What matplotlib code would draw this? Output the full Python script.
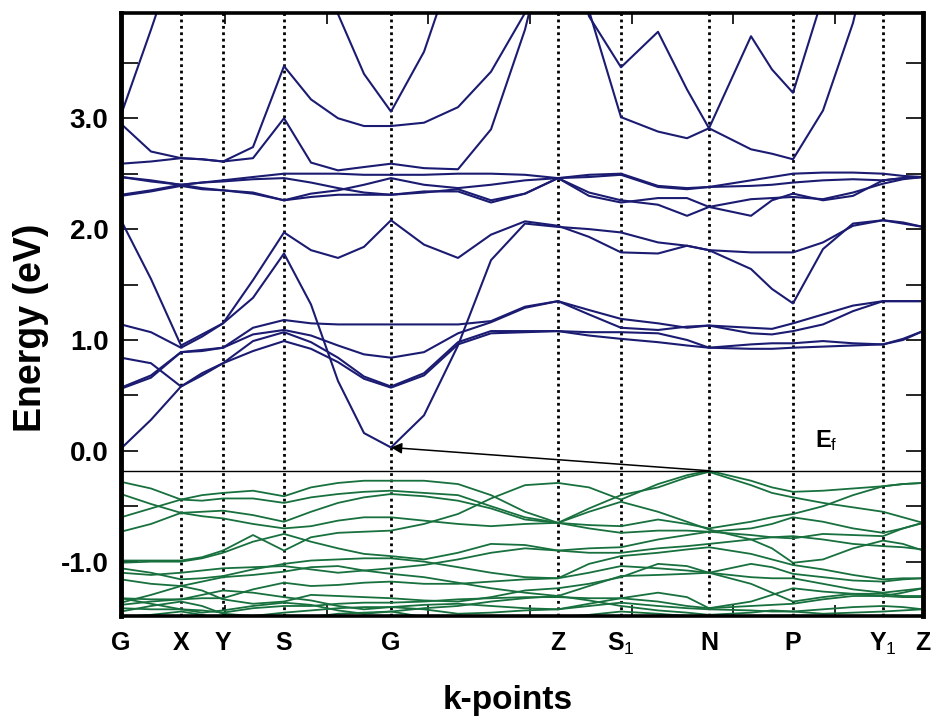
import matplotlib
matplotlib.use("Agg")
import matplotlib.pyplot as plt

plt.rcParams["font.family"] = ["Liberation Sans", "DejaVu Sans"]
plt.rcParams["mathtext.fontset"] = "custom"
plt.rcParams["mathtext.rm"] = "Liberation Sans"
plt.rcParams["mathtext.it"] = "Liberation Sans:italic"
plt.rcParams["mathtext.bf"] = "Liberation Sans:bold"

# k-path (arbitrary distance units along the path)
k_grid = [0, 30, 60, 81, 102, 132, 163, 190, 217, 243, 270, 303, 337, 370, 404,
          437, 468, 500, 537, 566, 588, 630, 651, 672, 702, 732, 762, 782, 802]
hs_k = [0, 60, 102, 163, 270, 437, 500, 588, 672, 762, 802]
hs_labels = ["G", "X", "Y", "S", "G", "Z", "S$_1$", "N", "P", "Y$_1$", "Z"]
path_ticks = [104, 206, 307, 409, 511, 612, 714]

fermi_level = -0.18
gap_from = (588, -0.18)   # VBM at N
gap_to = (270, 0.03)      # CBM at G

y_major = [-1.0, 0.0, 1.0, 2.0, 3.0]
y_labels = ["-1.0", "0.0", "1.0", "2.0", "3.0"]
y_minor = [-0.5, 0.5, 1.5, 2.5, 3.5]

# conduction bands (eV)
cb_1 = [0.02, 0.28, 0.58, 0.68, 0.79, 0.90, 0.99, 0.92, 0.80, 0.65, 0.57, 0.68, 0.96, 1.06, 1.07,
        1.08, 1.04, 1.01, 0.98, 0.95, 0.93, 0.92, 0.92, 0.93, 0.94, 0.95, 0.96, 1.01, 1.08]
cb_2 = [0.84, 0.79, 0.58, 0.70, 0.79, 0.99, 1.07, 0.98, 0.84, 0.67, 0.58, 0.70, 0.98, 1.08, 1.08,
        1.08, 1.07, 1.07, 1.06, 1.00, 0.93, 0.96, 0.97, 0.97, 0.99, 0.97, 0.96, 1.00, 1.08]
cb_3 = [0.57, 0.68, 0.89, 0.90, 0.93, 1.05, 1.09, 1.04, 0.95, 0.87, 0.84, 0.89, 1.06, 1.16, 1.29,
        1.35, 1.23, 1.11, 1.09, 1.12, 1.13, 1.06, 1.05, 1.08, 1.14, 1.26, 1.35, 1.35, 1.35]
cb_4 = [0.56, 0.66, 0.89, 0.91, 0.93, 1.11, 1.18, 1.15, 1.14, 1.14, 1.14, 1.14, 1.14, 1.17, 1.30,
        1.35, 1.27, 1.19, 1.15, 1.11, 1.13, 1.11, 1.10, 1.15, 1.23, 1.31, 1.35, 1.35, 1.35]
cb_5 = [1.14, 1.07, 0.93, 1.03, 1.15, 1.38, 1.78, 1.32, 0.63, 0.16, 0.03, 0.32, 0.95, 1.72, 2.05,
        2.02, 2.00, 1.97, 1.88, 1.85, 1.81, 1.79, 1.79, 1.79, 1.88, 2.03, 2.08, 2.06, 2.02]
cb_6 = [2.08, 1.55, 0.95, 1.05, 1.15, 1.54, 1.97, 1.81, 1.74, 1.84, 2.08, 1.86, 1.74, 1.95, 2.07,
        2.03, 1.93, 1.79, 1.78, 1.85, 1.81, 1.64, 1.46, 1.33, 1.82, 2.05, 2.08, 2.05, 2.02]
cb_7 = [2.47, 2.44, 2.40, 2.42, 2.44, 2.47, 2.50, 2.50, 2.50, 2.49, 2.49, 2.49, 2.50, 2.50, 2.49,
        2.46, 2.49, 2.50, 2.39, 2.37, 2.38, 2.44, 2.47, 2.50, 2.51, 2.51, 2.50, 2.48, 2.47]
cb_8 = [2.47, 2.43, 2.40, 2.42, 2.43, 2.45, 2.46, 2.42, 2.37, 2.33, 2.31, 2.33, 2.36, 2.26, 2.32,
        2.46, 2.47, 2.49, 2.38, 2.36, 2.38, 2.39, 2.40, 2.42, 2.44, 2.45, 2.44, 2.46, 2.47]
cb_9 = [2.31, 2.35, 2.40, 2.37, 2.35, 2.33, 2.26, 2.32, 2.35, 2.40, 2.46, 2.40, 2.37, 2.40, 2.44,
        2.46, 2.33, 2.26, 2.22, 2.12, 2.20, 2.27, 2.28, 2.29, 2.27, 2.33, 2.41, 2.45, 2.47]
cb_10 = [2.30, 2.34, 2.39, 2.36, 2.35, 2.32, 2.26, 2.29, 2.31, 2.31, 2.31, 2.34, 2.34, 2.24, 2.32,
         2.46, 2.30, 2.24, 2.28, 2.28, 2.20, 2.12, 2.26, 2.32, 2.26, 2.30, 2.44, 2.46, 2.47]
cb_11 = [2.59, 2.61, 2.64, 2.63, 2.61, 2.64, 3.00, 2.60, 2.53, 2.56, 2.59, 2.55, 2.54, 2.90, 3.80,
         5.00, 3.92, 3.46, 3.78, 3.26, 2.91, 2.72, 2.68, 2.63, 3.07, 3.86, 5.00, 5.00, 5.00]
cb_12 = [2.95, 2.70, 2.64, 2.63, 2.61, 2.74, 3.47, 3.17, 3.00, 2.93, 2.93, 2.96, 3.10, 3.42, 3.95,
         5.00, 3.97, 3.01, 2.88, 2.82, 2.91, 3.74, 3.44, 3.23, 4.10, 5.00, 5.00, 5.00, 5.00]
cb_13 = [3.03, 3.80, 4.60, 5.00, 5.00, 5.00, 5.00, 4.60, 3.94, 3.40, 3.06, 3.60, 4.50, 5.00, 5.00,
         5.00, 5.00, 5.00, 5.00, 5.00, 5.00, 5.00, 5.00, 5.00, 5.00, 5.00, 5.00, 5.00, 5.00]

# valence bands (eV)
vb_1 = [-0.28, -0.34, -0.44, -0.40, -0.38, -0.36, -0.41, -0.33, -0.29, -0.27, -0.27, -0.27, -0.30, -0.40, -0.55,
        -0.65, -0.52, -0.40, -0.33, -0.24, -0.19, -0.31, -0.38, -0.42, -0.47, -0.51, -0.55, -0.60, -0.65]
vb_2 = [-0.60, -0.52, -0.44, -0.45, -0.43, -0.43, -0.47, -0.42, -0.39, -0.37, -0.36, -0.38, -0.40, -0.50, -0.60,
        -0.65, -0.55, -0.46, -0.55, -0.64, -0.71, -0.80, -0.88, -1.01, -0.98, -0.88, -0.81, -0.84, -0.90]
vb_3 = [-0.39, -0.48, -0.56, -0.55, -0.54, -0.58, -0.64, -0.55, -0.47, -0.42, -0.39, -0.41, -0.45, -0.52, -0.62,
        -0.65, -0.67, -0.68, -0.62, -0.66, -0.70, -0.64, -0.60, -0.57, -0.50, -0.40, -0.32, -0.30, -0.29]
vb_4 = [-0.73, -0.66, -0.56, -0.59, -0.61, -0.66, -0.70, -0.68, -0.63, -0.60, -0.60, -0.63, -0.66, -0.68, -0.66,
        -0.65, -0.70, -0.74, -0.72, -0.72, -0.73, -0.70, -0.66, -0.60, -0.64, -0.70, -0.74, -0.70, -0.65]
vb_5 = [-0.99, -0.99, -0.99, -0.96, -0.90, -0.76, -0.90, -0.78, -0.74, -0.73, -0.72, -0.66, -0.57, -0.43, -0.31,
        -0.29, -0.33, -0.44, -0.30, -0.22, -0.18, -0.27, -0.33, -0.37, -0.36, -0.34, -0.32, -0.30, -0.29]
vb_6 = [-1.01, -1.00, -1.00, -0.97, -0.92, -0.82, -0.75, -0.82, -0.88, -0.93, -0.95, -0.98, -0.92, -0.84, -0.85,
        -0.90, -0.88, -0.87, -0.80, -0.76, -0.73, -0.76, -0.78, -0.79, -0.75, -0.76, -0.77, -0.70, -0.65]
vb_7 = [-1.06, -1.10, -1.16, -1.15, -1.13, -1.07, -1.02, -0.99, -0.98, -0.97, -0.97, -1.00, -1.05, -1.10, -1.14,
        -1.15, -1.02, -0.95, -0.92, -0.89, -0.87, -0.93, -0.98, -1.03, -1.07, -1.12, -1.16, -1.15, -1.15]
vb_8 = [-1.10, -1.12, -1.10, -1.08, -1.06, -1.05, -1.04, -1.07, -1.10, -1.08, -1.06, -1.03, -0.98, -0.92, -0.88,
        -0.90, -0.92, -0.92, -0.88, -0.86, -0.84, -0.80, -0.78, -0.77, -0.80, -0.84, -0.86, -0.87, -0.89]
vb_9 = [-1.16, -1.20, -1.22, -1.18, -1.14, -1.12, -1.09, -1.05, -1.04, -1.08, -1.11, -1.14, -1.19, -1.24, -1.28,
        -1.31, -1.22, -1.13, -1.12, -1.11, -1.10, -1.14, -1.15, -1.15, -1.20, -1.25, -1.28, -1.26, -1.24]
vb_10 = [-1.33, -1.34, -1.34, -1.33, -1.33, -1.25, -1.19, -1.22, -1.21, -1.19, -1.18, -1.20, -1.20, -1.18, -1.16,
         -1.15, -1.10, -1.04, -1.06, -1.08, -1.10, -1.02, -1.05, -1.11, -1.14, -1.17, -1.18, -1.16, -1.15]
vb_11 = [-1.37, -1.30, -1.22, -1.26, -1.34, -1.38, -1.36, -1.30, -1.31, -1.32, -1.33, -1.35, -1.36, -1.32, -1.26,
         -1.24, -1.20, -1.14, -1.02, -1.04, -1.10, -1.20, -1.28, -1.36, -1.32, -1.29, -1.29, -1.31, -1.31]
vb_12 = [-1.42, -1.43, -1.43, -1.44, -1.46, -1.42, -1.40, -1.40, -1.38, -1.37, -1.37, -1.36, -1.34, -1.33, -1.32,
         -1.32, -1.33, -1.33, -1.36, -1.40, -1.42, -1.40, -1.39, -1.38, -1.34, -1.31, -1.31, -1.32, -1.32]
vb_13 = [-1.45, -1.40, -1.36, -1.40, -1.47, -1.49, -1.46, -1.44, -1.42, -1.41, -1.41, -1.43, -1.47, -1.46, -1.44,
         -1.43, -1.40, -1.37, -1.40, -1.42, -1.43, -1.44, -1.45, -1.45, -1.43, -1.41, -1.40, -1.41, -1.43]
vb_14 = [-1.50, -1.48, -1.45, -1.48, -1.52, -1.50, -1.53, -1.50, -1.47, -1.46, -1.45, -1.50, -1.55, -1.55, -1.52,
         -1.50, -1.48, -1.45, -1.47, -1.49, -1.50, -1.50, -1.50, -1.50, -1.50, -1.49, -1.50, -1.52, -1.55]
vb_15 = [-1.39, -1.36, -1.34, -1.30, -1.26, -1.28, -1.32, -1.35, -1.40, -1.43, -1.41, -1.39, -1.38, -1.40, -1.42,
         -1.43, -1.38, -1.33, -1.28, -1.32, -1.42, -1.36, -1.30, -1.24, -1.27, -1.29, -1.31, -1.28, -1.24]
vb_16 = [-1.33, -1.38, -1.43, -1.46, -1.44, -1.40, -1.37, -1.39, -1.44, -1.47, -1.45, -1.42, -1.40, -1.36, -1.33,
         -1.31, -1.35, -1.40, -1.44, -1.46, -1.48, -1.46, -1.44, -1.45, -1.47, -1.46, -1.45, -1.44, -1.43]

conduction = [cb_1, cb_2, cb_3, cb_4, cb_5, cb_6, cb_7, cb_8, cb_9, cb_10, cb_11, cb_12, cb_13]
valence = [vb_1, vb_2, vb_3, vb_4, vb_5, vb_6, vb_7, vb_8, vb_9, vb_10, vb_11, vb_12, vb_13, vb_14,
           vb_15, vb_16]

CB_COLOR = "#1b1b72"
VB_COLOR = "#17703d"

fig = plt.figure(figsize=(9.38, 7.2), dpi=100)
ax = fig.add_axes([0.129, 0.1445, 0.855, 0.8375])

for k in hs_k[1:-1]:
    ax.axvline(k, color="black", lw=2.0, ls=(0, (1, 1.3)), zorder=1)

for band in conduction:
    ax.plot(k_grid, band, color=CB_COLOR, lw=1.5, zorder=2)
for band in valence:
    ax.plot(k_grid, band, color=VB_COLOR, lw=1.3, zorder=2)

ax.axhline(fermi_level, color="black", lw=1.0, zorder=3)
ax.annotate("", xy=gap_to, xytext=gap_from,
            arrowprops=dict(arrowstyle="-|>", color="black", lw=1.1,
                            mutation_scale=16, shrinkA=0, shrinkB=0), zorder=4)
ax.text(694, 0.09, r"E$_\mathrm{f}$", fontsize=17, fontweight="bold", ha="left", va="center")

ax.set_xlim(0, 802)
ax.set_ylim(-1.49, 3.95)

ax.set_xticks(hs_k)
ax.set_xticklabels(hs_labels, fontsize=18, fontweight="bold")
ax.set_xticks(path_ticks, minor=True)
ax.tick_params(axis="x", which="major", length=0, pad=11)
ax.tick_params(axis="x", which="minor", direction="in", length=8, width=1.2, top=True, bottom=True)

ax.set_yticks(y_major)
ax.set_yticklabels(y_labels, fontsize=20, fontweight="bold")
ax.set_yticks(y_minor, minor=True)
ax.tick_params(axis="y", which="both", direction="in", length=12, width=1.2,
               left=True, right=True, pad=9)

for side in ["left", "right"]:
    ax.spines[side].set_linewidth(3.5)
for side in ["top", "bottom"]:
    ax.spines[side].set_linewidth(2.6)

fig.text(31 / 938, 1 - 328 / 720, "Energy (eV)", rotation=90, fontsize=27,
         fontweight="bold", ha="center", va="center")
fig.text(508 / 938, 1 - 700 / 720, "k-points", fontsize=24,
         fontweight="bold", ha="center", va="center")

fig.savefig("out.png", dpi=100)
plt.close(fig)
